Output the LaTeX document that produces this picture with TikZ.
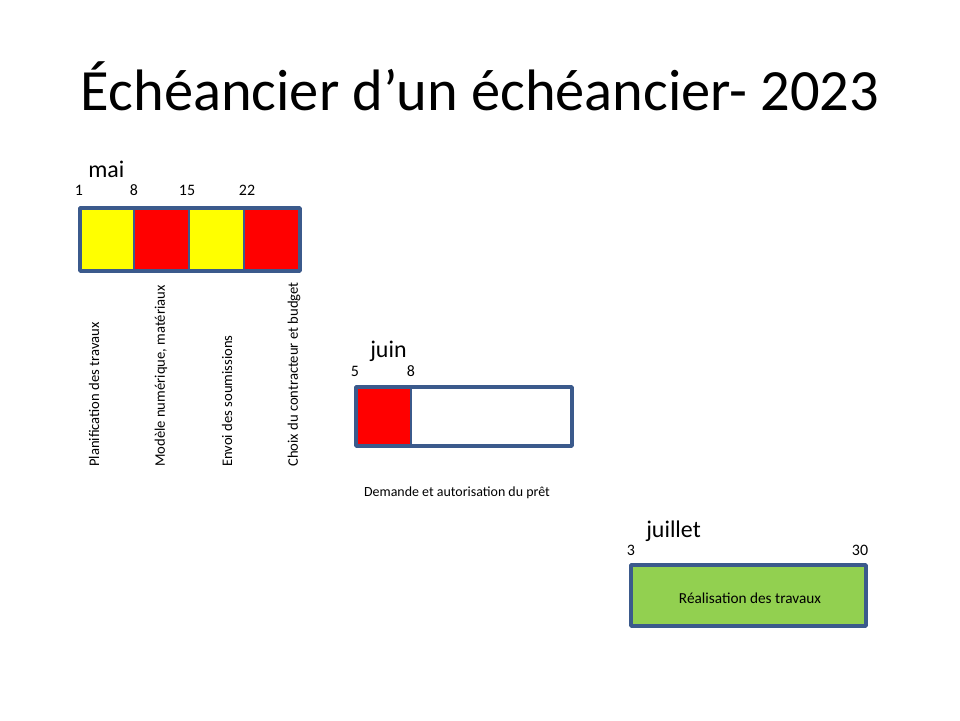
\documentclass[tikz,border=0pt]{standalone}
\usepackage{fontspec}
\setmainfont{Carlito}
\definecolor{barblue}{HTML}{3B5A8C}
\definecolor{leafgreen}{HTML}{92D050}
\definecolor{cellyellow}{HTML}{FFFF00}
\definecolor{cellred}{HTML}{FF0000}
\begin{document}
\begin{tikzpicture}[x=0.0264583cm,y=-0.0264583cm,line join=round,
  bar/.style={draw=barblue,line width=2.8pt},
  cellline/.style={draw=barblue,line width=0.9pt},
  month/.style={font=\fontsize{18}{20}\selectfont,anchor=base west,inner sep=0pt},
  day/.style={font=\fontsize{12}{14}\selectfont,anchor=base,inner sep=0pt},
  task/.style={font=\fontsize{11}{13}\selectfont,rotate=90,anchor=west,inner sep=0pt},
  label/.style={font=\fontsize{10.5}{12}\selectfont,anchor=base,inner sep=0pt}]
\useasboundingbox (0,0) rectangle (960,720);
\node[font=\fontsize{44}{50}\selectfont,anchor=base,inner sep=0pt] (title) at (480,110) {Échéancier d’un échéancier- 2023};
\node[month] (mai) at (88,177) {mai};
\node[day] (d1) at (79,195) {1};
\node[day] (d8) at (134,195) {8};
\node[day] (d15) at (187,195) {15};
\node[day] (d22) at (247,195) {22};
\fill[cellyellow] (80,208) rectangle (134,271);
\fill[cellred] (134,208) rectangle (189,271);
\fill[cellyellow] (189,208) rectangle (244,271);
\fill[cellred] (244,208) rectangle (300,271);
\draw[cellline] (134,208) -- (134,271) (189,208) -- (189,271) (244,208) -- (244,271);
\draw[bar] (80,208) rectangle (300,271);
\node[task] (plan) at (94,467) {Planification des travaux};
\node[task] (modele) at (161,467) {Modèle numérique, matériaux};
\node[task] (envoi) at (227,467) {Envoi des soumissions};
\node[task] (choix) at (294,467) {Choix du contracteur et budget};
\node[month] (juin) at (370,357) {juin};
\node[day] (d5) at (355,376) {5};
\node[day] (dj8) at (411,376) {8};
\fill[cellred] (356,387) rectangle (411,446);
\draw[cellline] (411,387) -- (411,446);
\draw[bar] (356,387) rectangle (572,446);
\node[label] (pret) at (457,496) {Demande et autorisation du prêt};
\node[month] (juillet) at (646,537) {juillet};
\node[day] (d3) at (631,555) {3};
\node[day] (d30) at (860,555) {30};
\draw[bar,fill=leafgreen] (631,565) rectangle (866,626);
\node[font=\fontsize{11.5}{13}\selectfont,inner sep=0pt] (real) at (750,598) {Réalisation des travaux};
\end{tikzpicture}
\end{document}
